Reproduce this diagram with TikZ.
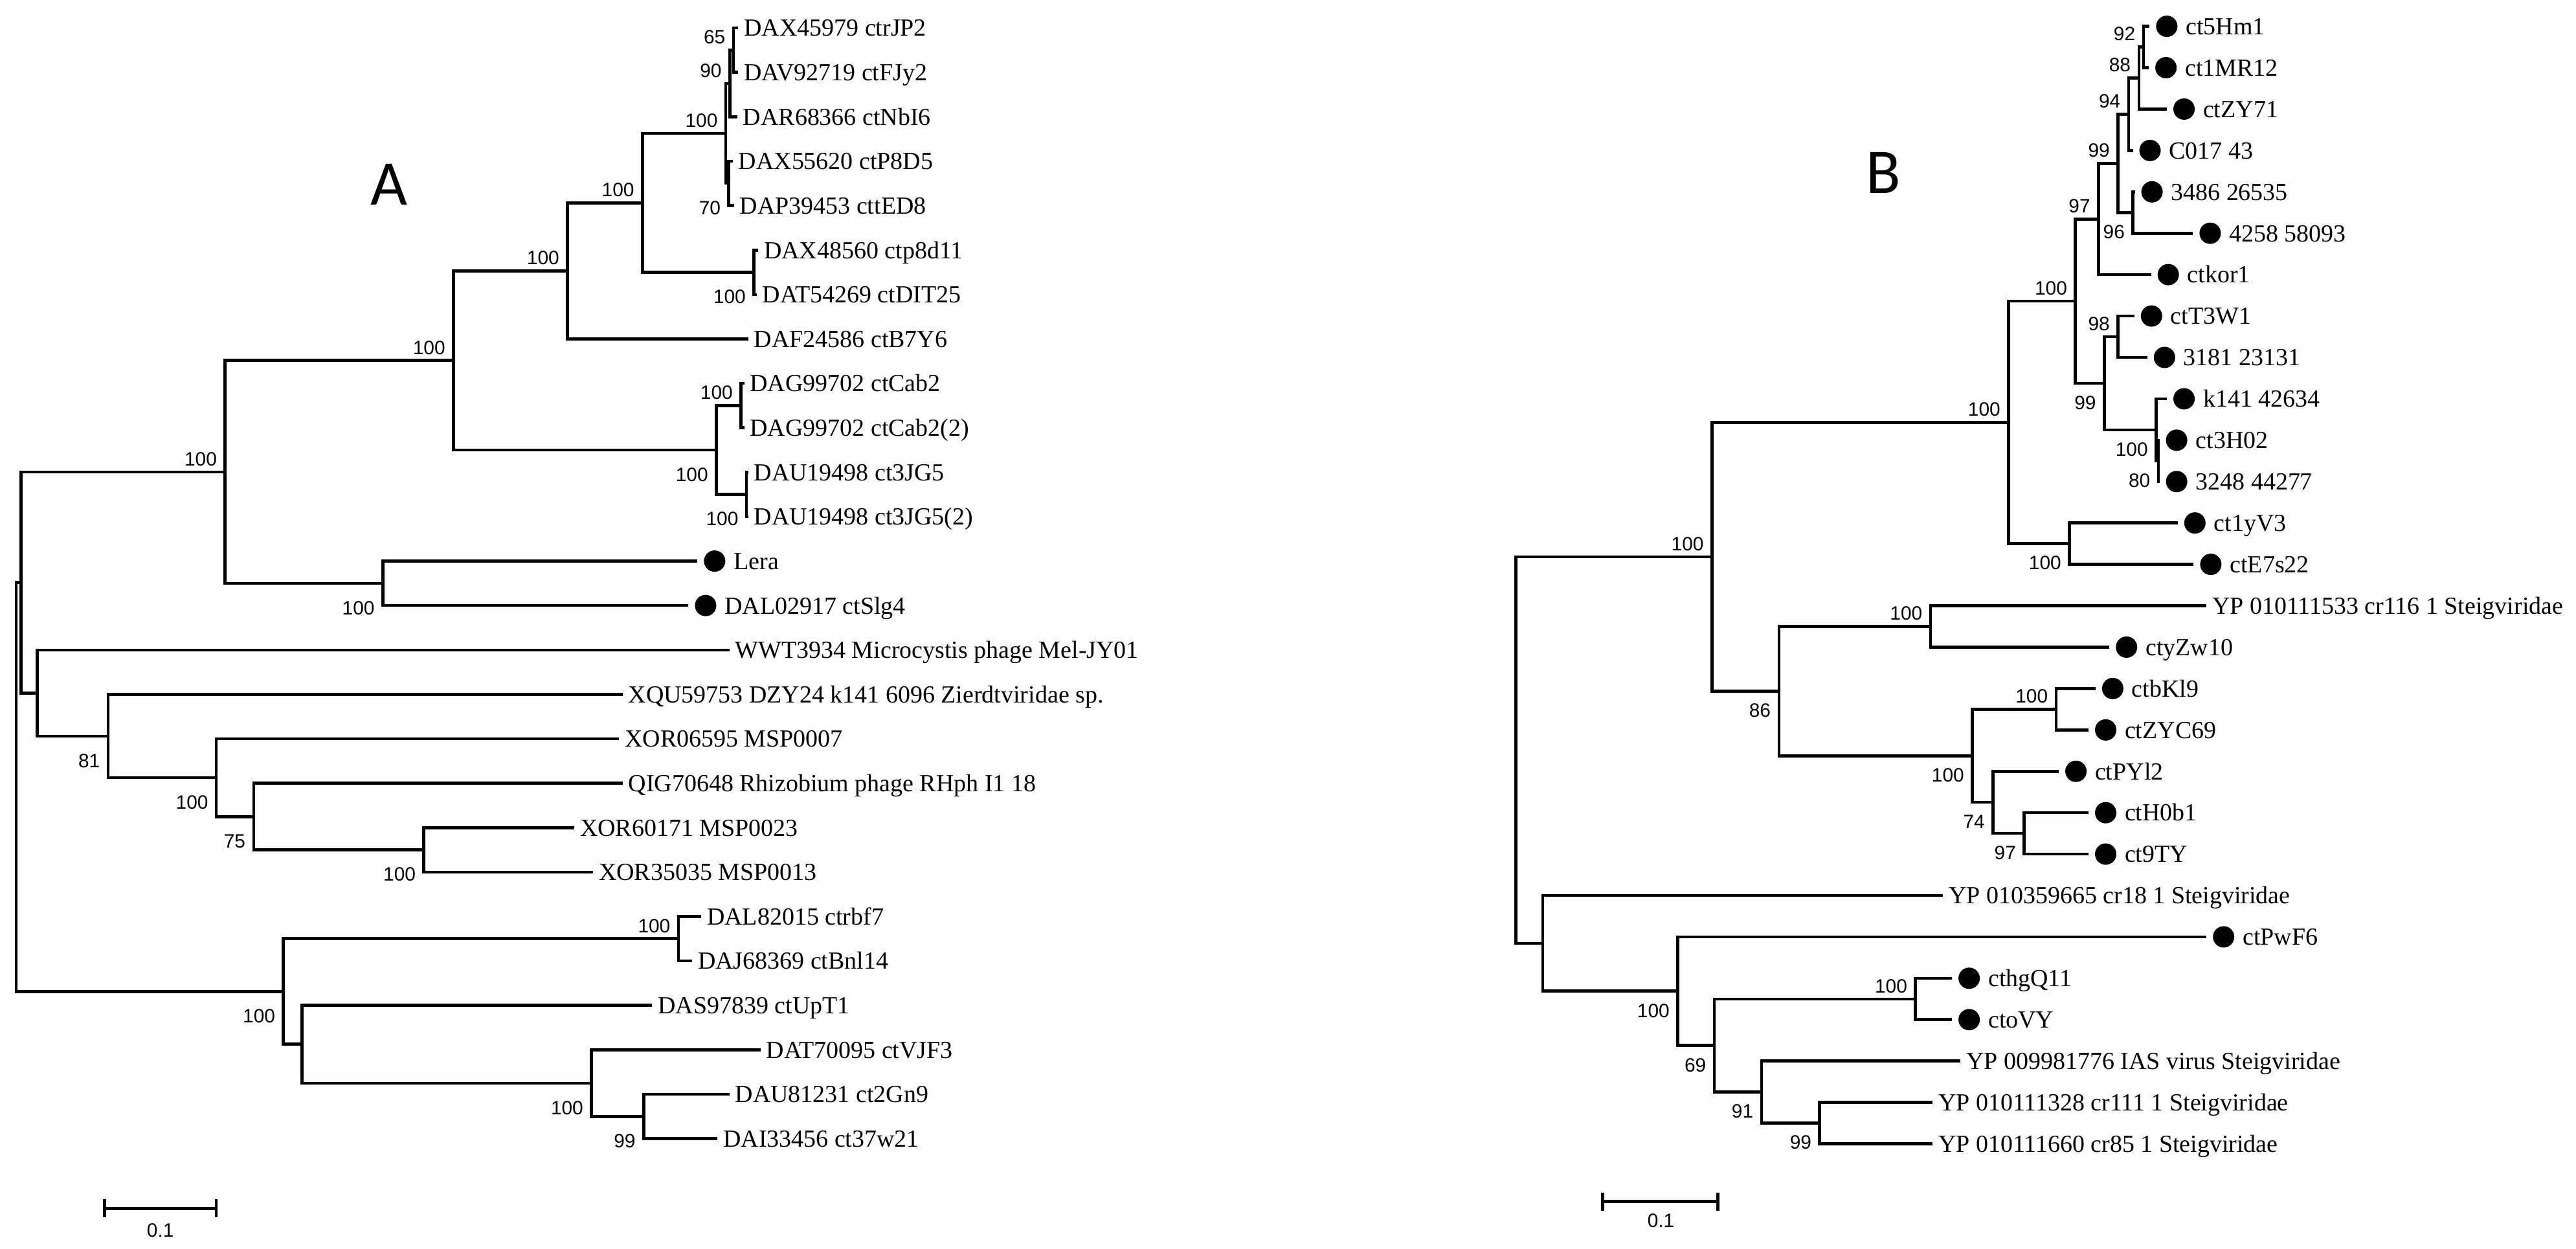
\documentclass[tikz,border=0pt]{standalone}
\usepackage{fontspec}
\setmainfont{Liberation Serif}
\newfontfamily\bootfont{Liberation Sans}
\newfontfamily\panelfont{Carlito}
\usetikzlibrary{arrows.meta}

\begin{document}
\begin{tikzpicture}[x=0.025376cm, y=-0.025376cm]
        \tikzstyle{branch}=[black, line width=1.3pt]
        \tikzstyle{lab}=[anchor=west, inner sep=0pt, outer xsep=0.09cm, text height=7.3pt, text depth=0pt, font=\fontsize{10.8}{12}\selectfont]
        \tikzstyle{dlab}=[inner sep=0pt, outer xsep=0.03cm, text height=7.3pt, text depth=0pt, font=\fontsize{10.8}{12}\selectfont]
        \tikzstyle{leafdot}=[circle, fill=black, minimum size=0.33cm, inner sep=0pt, outer sep=0.1cm]
        \tikzstyle{boot}=[anchor=east, inner sep=0pt, font=\bootfont\fontsize{8.5}{10}\selectfont]
        \tikzstyle{bsup}=[boot, xshift=-0.12cm, yshift=0.2cm]
        \tikzstyle{bsdnA}=[boot, xshift=-0.12cm, yshift=-0.38cm]
        \tikzstyle{bsdnB}=[boot, xshift=-0.12cm, yshift=-0.3cm]
        \tikzstyle{panel}=[inner sep=0pt, font=\panelfont\fontsize{28}{30}\selectfont]
        \tikzstyle{scalebar}=[branch, {Bar[width=0.28cm]}-{Bar[width=0.28cm]}]
        \tikzstyle{scalelab}=[inner sep=0pt, font=\bootfont\fontsize{8.5}{10}\selectfont]

        \useasboundingbox (0,0) rectangle (1568,760);

        % ---------------- tree A ----------------
        \node[panel] (pa) at (237,112.4) {A};

        \coordinate (r)  at (9.9,479);
        \coordinate (n1) at (12.7,354.5);
        \coordinate (t)  at (137,287.2);
        \coordinate (c1) at (276,219.4);
        \coordinate (c2) at (345.4,164.9);
        \coordinate (c4) at (391,123.5);
        \coordinate (c5) at (441.8,81.2);
        \coordinate (nb) at (444.2,50.8);
        \coordinate (na) at (446.5,30.5);
        \coordinate (nd) at (443.6,111.6);
        \coordinate (c6) at (458.9,165.7);
        \coordinate (c3) at (436,273.9);
        \coordinate (p1) at (451,246.8);
        \coordinate (p2) at (454.4,300.9);
        \coordinate (ls) at (233,355);
        \coordinate (m1) at (22.7,421.8);
        \coordinate (m2) at (65.8,448);
        \coordinate (m3) at (131.7,473.3);
        \coordinate (m4) at (154.4,497);
        \coordinate (m5) at (258,517.2);
        \coordinate (k1) at (172.5,603.4);
        \coordinate (q1) at (413,571.3);
        \coordinate (q2) at (183.9,635.5);
        \coordinate (q3) at (360,659.2);
        \coordinate (q4) at (391.8,679.5);

        \node[lab] (a1)  at (449.4,17)     {DAX45979 ctrJP2};
        \node[lab] (a2)  at (449.4,44.04)  {DAV92719 ctFJy2};
        \node[lab] (a3)  at (448.8,71.08)  {DAR68366 ctNbI6};
        \node[lab] (a4)  at (446,98.12)    {DAX55620 ctP8D5};
        \node[lab] (a5)  at (446.8,125.16) {DAP39453 cttED8};
        \node[lab] (a6)  at (461.5,152.2)  {DAX48560 ctp8d11};
        \node[lab] (a7)  at (460.5,179.24) {DAT54269 ctDIT25};
        \node[lab] (a8)  at (455.5,206.28) {DAF24586 ctB7Y6};
        \node[lab] (a9)  at (453,233.32)   {DAG99702 ctCab2};
        \node[lab] (a10) at (453,260.36)   {DAG99702 ctCab2(2)};
        \node[lab] (a11) at (455.4,287.4)  {DAU19498 ct3JG5};
        \node[lab] (a12) at (455.4,314.44) {DAU19498 ct3JG5(2)};
        \node[leafdot, label={[dlab]right:Lera}] (a13) at (435,341.48) {};
        \node[leafdot, label={[dlab]right:DAL02917 ctSlg4}] (a14) at (429.5,368.52) {};
        \node[lab] (a15) at (444,395.56)   {WWT3934 Microcystis phage Mel-JY01};
        \node[lab] (a16) at (379,422.6)    {XQU59753 DZY24 k141 6096 Zierdtviridae sp.};
        \node[lab] (a17) at (376.8,449.64) {XOR06595 MSP0007};
        \node[lab] (a18) at (379,476.68)   {QIG70648 Rhizobium phage RHph I1 18};
        \node[lab] (a19) at (349.6,503.72) {XOR60171 MSP0023};
        \node[lab] (a20) at (361,530.76)   {XOR35035 MSP0013};
        \node[lab] (a21) at (426.8,557.8)  {DAL82015 ctrbf7};
        \node[lab] (a22) at (421.3,584.84) {DAJ68369 ctBnl14};
        \node[lab] (a23) at (397,611.88)   {DAS97839 ctUpT1};
        \node[lab] (a24) at (463,638.92)   {DAT70095 ctVJF3};
        \node[lab] (a25) at (444,665.96)   {DAU81231 ct2Gn9};
        \node[lab] (a26) at (436.7,693)    {DAI33456 ct37w21};

        \draw[branch] (r) |- (n1)  (r) |- (k1);
        \draw[branch] (n1) |- (t)  (n1) |- (m1);
        \draw[branch] (t) |- (c1)  (t) |- (ls);
        \draw[branch] (c1) |- (c2)  (c1) |- (c3);
        \draw[branch] (c2) |- (c4)  (c2) |- (a8.west);
        \draw[branch] (c4) |- (c5)  (c4) |- (c6);
        \draw[branch] (c5) |- (nb)  (c5) |- (nd);
        \draw[branch] (nb) |- (na)  (nb) |- (a3.west);
        \draw[branch] (na) |- (a1.west)  (na) |- (a2.west);
        \draw[branch] (nd) |- (a4.west)  (nd) |- (a5.west);
        \draw[branch] (c6) |- (a6.west)  (c6) |- (a7.west);
        \draw[branch] (c3) |- (p1)  (c3) |- (p2);
        \draw[branch] (p1) |- (a9.west)  (p1) |- (a10.west);
        \draw[branch] (p2) |- (a11.west)  (p2) |- (a12.west);
        \draw[branch] (ls) |- (a13.west)  (ls) |- (a14.west);
        \draw[branch] (m1) |- (a15.west)  (m1) |- (m2);
        \draw[branch] (m2) |- (a16.west)  (m2) |- (m3);
        \draw[branch] (m3) |- (a17.west)  (m3) |- (m4);
        \draw[branch] (m4) |- (a18.west)  (m4) |- (m5);
        \draw[branch] (m5) |- (a19.west)  (m5) |- (a20.west);
        \draw[branch] (k1) |- (q1)  (k1) |- (q2);
        \draw[branch] (q1) |- (a21.west)  (q1) |- (a22.west);
        \draw[branch] (q2) |- (a23.west)  (q2) |- (q3);
        \draw[branch] (q3) |- (a24.west)  (q3) |- (q4);
        \draw[branch] (q4) |- (a25.west)  (q4) |- (a26.west);

        % bootstrap values A
        \node[bsup]  (bna) at (na) {65};
        \node[bsup]  (bnb) at (nb) {90};
        \node[bsup]  (bc5) at (c5) {100};
        \node[bsdnA] (bnd) at (nd) {70};
        \node[bsup]  (bc4) at (c4) {100};
        \node[bsdnA] (bc6) at (c6) {100};
        \node[bsup]  (bc2) at (c2) {100};
        \node[bsup]  (bc1) at (c1) {100};
        \node[bsup]  (bt)  at (t)  {100};
        \node[bsup]  (bp1) at (p1) {100};
        \node[bsdnA] (bc3) at (c3) {100};
        \node[bsdnA] (bp2) at (p2) {100};
        \node[bsdnA] (bls) at (ls) {100};
        \node[bsdnA] (bm2) at (m2) {81};
        \node[bsdnA] (bm3) at (m3) {100};
        \node[bsdnA] (bm4) at (m4) {75};
        \node[bsdnA] (bm5) at (m5) {100};
        \node[bsup]  (bq1) at (q1) {100};
        \node[bsdnA] (bk1) at (k1) {100};
        \node[bsdnA] (bq3) at (q3) {100};
        \node[bsdnA] (bq4) at (q4) {99};

        \coordinate (sa1) at (62.7,735.5);
        \coordinate (sa2) at (132.6,735.5);
        \draw[scalebar] (sa1) -- (sa2);
        \node[scalelab] (sla) at (97.6,748.7) {0.1};

        % ---------------- tree B ----------------
        \node[panel] (pb) at (1146.4,105) {B};

        \coordinate (rb)  at (922.8,456.5);
        \coordinate (u)   at (1042,338.84);
        \coordinate (u1)  at (1222.6,257.08);
        \coordinate (v)   at (1263.2,183.28);
        \coordinate (v1)  at (1277.3,133.29);
        \coordinate (v3)  at (1289.2,99.44);
        \coordinate (v4)  at (1295.7,69.53);
        \coordinate (v6)  at (1301.9,47.49);
        \coordinate (v7)  at (1304.7,28.6);
        \coordinate (v5)  at (1298.3,129.36);
        \coordinate (v2)  at (1280.8,233.27);
        \coordinate (x1)  at (1289.2,204.93);
        \coordinate (x2)  at (1312.4,261.6);
        \coordinate (x3)  at (1313.8,280.5);
        \coordinate (w)   at (1259.6,330.88);
        \coordinate (u2)  at (1082.8,420.6);
        \coordinate (y1)  at (1175.1,381.26);
        \coordinate (y2)  at (1200.5,459.97);
        \coordinate (y3)  at (1251.5,431.64);
        \coordinate (y4)  at (1213.1,488.3);
        \coordinate (y5)  at (1232.1,507.2);
        \coordinate (rb2) at (939,574.1);
        \coordinate (g)   at (1021.2,603.2);
        \coordinate (g2)  at (1043.5,636.3);
        \coordinate (h)   at (1165.9,607.97);
        \coordinate (g3)  at (1072.2,664.6);
        \coordinate (g4)  at (1107.6,683.5);

        \node[leafdot, label={[dlab]right:ct5Hm1}]      (b1)  at (1318.9,16) {};
        \node[leafdot, label={[dlab]right:ct1MR12}]     (b2)  at (1318.4,41.19) {};
        \node[leafdot, label={[dlab]right:ctZY71}]      (b3)  at (1329.4,66.38) {};
        \node[leafdot, label={[dlab]right:C017 43}]     (b4)  at (1308.7,91.57) {};
        \node[leafdot, label={[dlab]right:3486 26535}]  (b5)  at (1309.9,116.76) {};
        \node[leafdot, label={[dlab]right:4258 58093}]  (b6)  at (1345.3,141.95) {};
        \node[leafdot, label={[dlab]right:ctkor1}]      (b7)  at (1319.8,167.14) {};
        \node[leafdot, label={[dlab]right:ctT3W1}]      (b8)  at (1309.6,192.33) {};
        \node[leafdot, label={[dlab]right:3181 23131}]  (b9)  at (1317.5,217.52) {};
        \node[leafdot, label={[dlab]right:k141 42634}]  (b10) at (1329.4,242.71) {};
        \node[leafdot, label={[dlab]right:ct3H02}]      (b11) at (1324.9,267.9) {};
        \node[leafdot, label={[dlab]right:3248 44277}]  (b12) at (1324.9,293.09) {};
        \node[leafdot, label={[dlab]right:ct1yV3}]      (b13) at (1336,318.28) {};
        \node[leafdot, label={[dlab]right:ctE7s22}]     (b14) at (1345.7,343.47) {};
        \node[lab] (b15) at (1343.1,368.66) {YP 010111533 cr116 1 Steigviridae};
        \node[leafdot, label={[dlab]right:ctyZw10}]     (b16) at (1294.4,393.85) {};
        \node[leafdot, label={[dlab]right:ctbKl9}]      (b17) at (1286,419.04) {};
        \node[leafdot, label={[dlab]right:ctZYC69}]     (b18) at (1281.7,444.23) {};
        \node[leafdot, label={[dlab]right:ctPYl2}]      (b19) at (1263.6,469.42) {};
        \node[leafdot, label={[dlab]right:ctH0b1}]      (b20) at (1281.7,494.61) {};
        \node[leafdot, label={[dlab]right:ct9TY}]       (b21) at (1281.7,519.8) {};
        \node[lab] (b22) at (1182.7,544.99) {YP 010359665 cr18 1 Steigviridae};
        \node[leafdot, label={[dlab]right:ctPwF6}]      (b23) at (1353.5,570.18) {};
        \node[leafdot, label={[dlab]right:cthgQ11}]     (b24) at (1198.6,595.37) {};
        \node[leafdot, label={[dlab]right:ctoVY}]       (b25) at (1198.6,620.56) {};
        \node[lab] (b26) at (1193.3,645.75) {YP 009981776 IAS virus Steigviridae};
        \node[lab] (b27) at (1176.4,670.94) {YP 010111328 cr111 1 Steigviridae};
        \node[lab] (b28) at (1176.4,696.13) {YP 010111660 cr85 1 Steigviridae};

        \draw[branch] (rb) |- (u)  (rb) |- (rb2);
        \draw[branch] (u) |- (u1)  (u) |- (u2);
        \draw[branch] (u1) |- (v)  (u1) |- (w);
        \draw[branch] (v) |- (v1)  (v) |- (v2);
        \draw[branch] (v1) |- (v3)  (v1) |- (b7.west);
        \draw[branch] (v3) |- (v4)  (v3) |- (v5);
        \draw[branch] (v4) |- (v6)  (v4) |- (b4.west);
        \draw[branch] (v6) |- (v7)  (v6) |- (b3.west);
        \draw[branch] (v7) |- (b1.west)  (v7) |- (b2.west);
        \draw[branch] (v5) |- (b5.west)  (v5) |- (b6.west);
        \draw[branch] (v2) |- (x1)  (v2) |- (x2);
        \draw[branch] (x1) |- (b8.west)  (x1) |- (b9.west);
        \draw[branch] (x2) |- (b10.west)  (x2) |- (x3);
        \draw[branch] (x3) |- (b11.west)  (x3) |- (b12.west);
        \draw[branch] (w) |- (b13.west)  (w) |- (b14.west);
        \draw[branch] (u2) |- (y1)  (u2) |- (y2);
        \draw[branch] (y1) |- (b15.west)  (y1) |- (b16.west);
        \draw[branch] (y2) |- (y3)  (y2) |- (y4);
        \draw[branch] (y3) |- (b17.west)  (y3) |- (b18.west);
        \draw[branch] (y4) |- (b19.west)  (y4) |- (y5);
        \draw[branch] (y5) |- (b20.west)  (y5) |- (b21.west);
        \draw[branch] (rb2) |- (b22.west)  (rb2) |- (g);
        \draw[branch] (g) |- (b23.west)  (g) |- (g2);
        \draw[branch] (g2) |- (h)  (g2) |- (g3);
        \draw[branch] (h) |- (b24.west)  (h) |- (b25.west);
        \draw[branch] (g3) |- (b26.west)  (g3) |- (g4);
        \draw[branch] (g4) |- (b27.west)  (g4) |- (b28.west);

        % bootstrap values B
        \node[bsup]  (bv7) at (v7) {92};
        \node[bsup]  (bv6) at (v6) {88};
        \node[bsup]  (bv4) at (v4) {94};
        \node[bsup]  (bv3) at (v3) {99};
        \node[bsup]  (bv1) at (v1) {97};
        \node[bsdnB] (bv5) at (v5) {96};
        \node[bsup]  (bv)  at (v)  {100};
        \node[bsup]  (bx1) at (x1) {98};
        \node[bsdnB] (bv2) at (v2) {99};
        \node[bsdnB] (bx2) at (x2) {100};
        \node[bsdnB] (bx3) at (x3) {80};
        \node[bsup]  (bu1) at (u1) {100};
        \node[bsdnB] (bw)  at (w)  {100};
        \node[bsup]  (bu)  at (u)  {100};
        \node[bsup]  (by1) at (y1) {100};
        \node[bsdnB] (bu2) at (u2) {86};
        \node[bsup]  (by3) at (y3) {100};
        \node[bsdnB] (by2) at (y2) {100};
        \node[bsdnB] (by4) at (y4) {74};
        \node[bsdnB] (by5) at (y5) {97};
        \node[bsdnB] (bg)  at (g)  {100};
        \node[bsup]  (bh)  at (h)  {100};
        \node[bsdnB] (bg2) at (g2) {69};
        \node[bsdnB] (bg3) at (g3) {91};
        \node[bsdnB] (bg4) at (g4) {99};

        \coordinate (sb1) at (974.7,731.2);
        \coordinate (sb2) at (1046.5,731.2);
        \draw[scalebar] (sb1) -- (sb2);
        \node[scalelab] (slb) at (1011,742.9) {0.1};
\end{tikzpicture}
\end{document}
